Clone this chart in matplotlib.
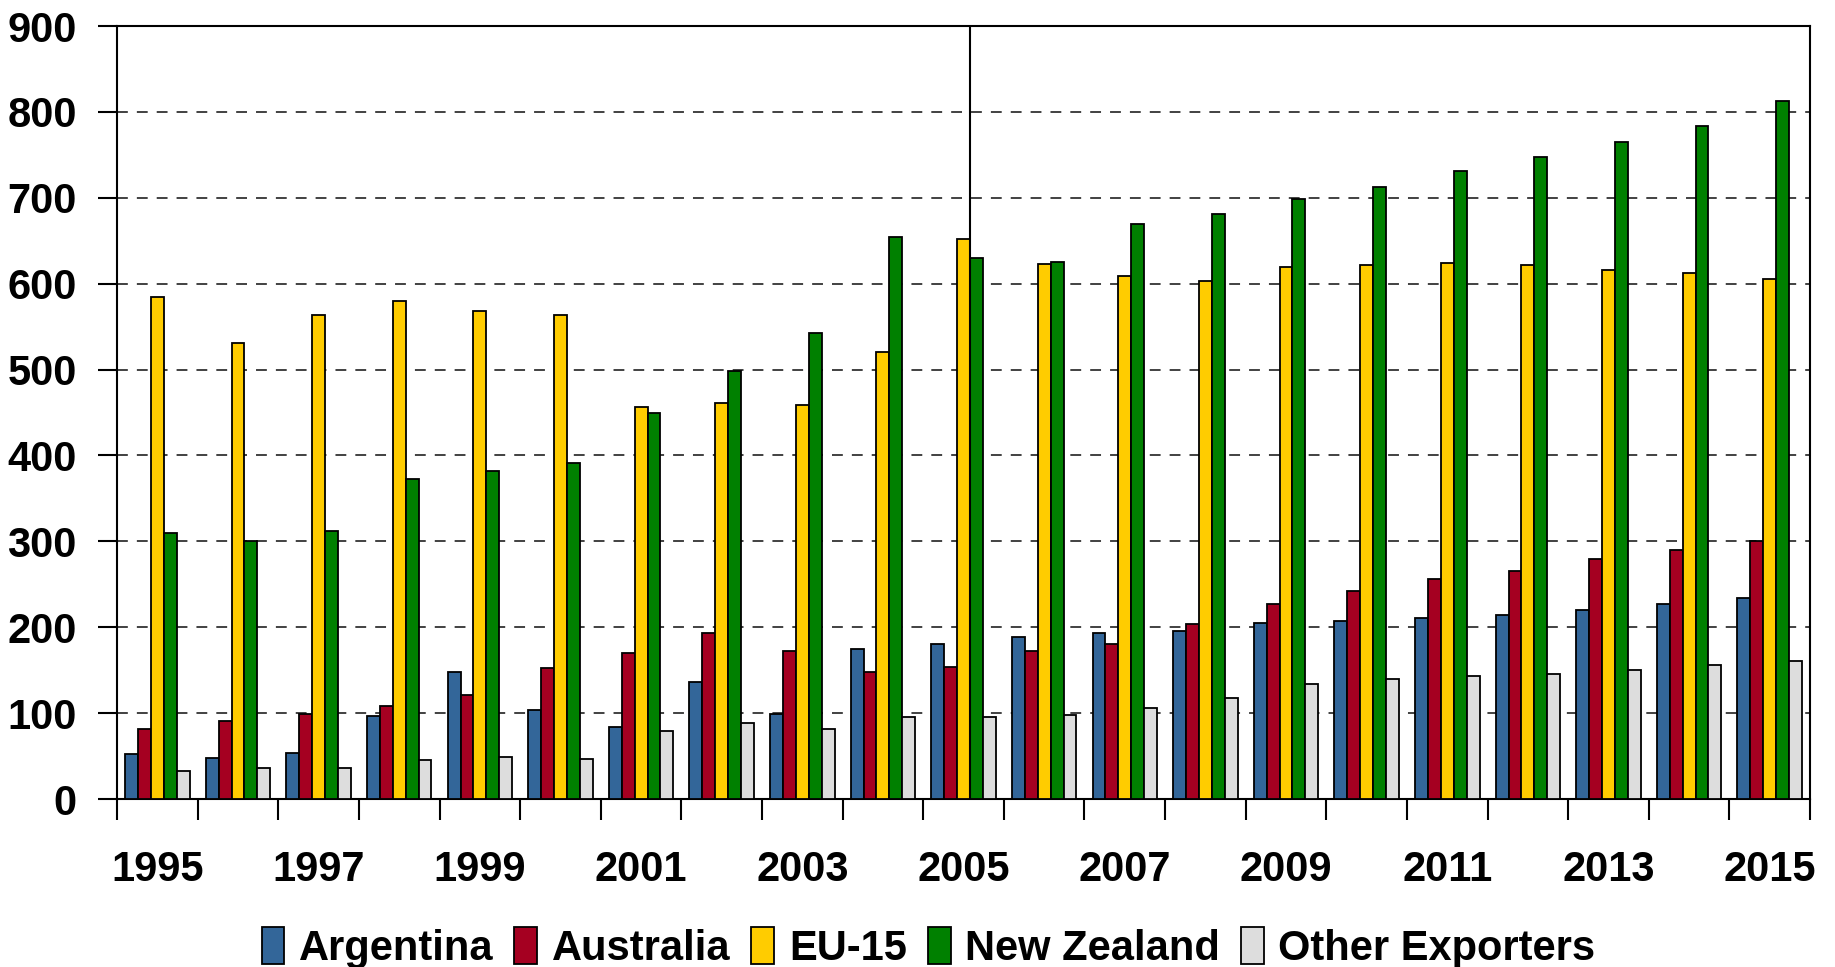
#!/usr/bin/env python3

import numpy as np
import matplotlib
matplotlib.use('Agg')
import matplotlib.pyplot as plt
from matplotlib.ticker import FixedLocator

plt.rcParams['font.family'] = ['Liberation Sans', 'DejaVu Sans']
plt.rcParams['font.weight'] = 'bold'

years = list(range(1995, 2016))
series = ['Argentina', 'Australia', 'EU-15', 'New Zealand', 'Other Exporters']
colors = ['#336699', '#A50021', '#FFCC00', '#008000', '#DDDDDD']

argentina = [52, 48, 54, 97, 148, 104, 84, 136, 99, 175, 180, 189, 193, 196, 205, 207, 211, 214, 220, 227, 234]
australia = [82, 91, 99, 108, 121, 152, 170, 193, 172, 148, 154, 172, 180, 204, 227, 242, 256, 266, 279, 290, 300]
eu15 = [584, 531, 563, 580, 568, 563, 457, 461, 459, 520, 652, 623, 609, 603, 620, 622, 624, 622, 616, 613, 606]
new_zealand = [310, 300, 312, 373, 382, 391, 450, 498, 543, 654, 630, 625, 670, 681, 699, 713, 731, 747, 765, 784, 813]
other = [33, 36, 36, 45, 49, 47, 79, 88, 82, 95, 95, 98, 106, 118, 134, 140, 143, 145, 150, 156, 161]

data = [argentina, australia, eu15, new_zealand, other]


def main():
	fig = plt.figure(figsize=(18.35, 9.67), dpi=100)
	ax = fig.add_axes([0.0638, 0.1737, 0.9226, 0.7994])

	x = np.arange(len(years))
	bw = 0.16
	for i, (vals, col, name) in enumerate(zip(data, colors, series)):
		ax.bar(x + (i - 2) * bw, vals, bw, color=col, edgecolor='black', linewidth=1.3,
			label=name, zorder=3)

	# vertical marker line at 2005
	ax.axvline(10 + bw / 2, color='black', linewidth=1.5, zorder=4)

	ax.set_xlim(-0.5, len(years) - 0.5)
	ax.set_ylim(0, 900)
	ax.set_yticks(np.arange(0, 901, 100))
	ax.yaxis.grid(True, linestyle=(0, (6, 5)), color='#333333', linewidth=1.3, zorder=0)

	ax.set_xticks(x[::2])
	ax.set_xticklabels([str(y) for y in years[::2]])
	ax.xaxis.set_minor_locator(FixedLocator(np.arange(-0.5, len(years), 1.0)))
	ax.tick_params(axis='x', which='major', length=0, pad=37, labelsize=30)
	ax.tick_params(axis='x', which='minor', length=15, width=1.5, direction='out')
	ax.tick_params(axis='y', length=14, width=1.5, pad=15, labelsize=30)

	for s in ax.spines.values():
		s.set_linewidth(1.5)

	fig.legend(loc='center', bbox_to_anchor=(0.506, 0.02), ncol=5, frameon=False,
		fontsize=30, handlelength=0.55, handleheight=1.0, handletextpad=0.35,
		columnspacing=0.5, borderpad=0)

	fig.savefig('out.png', dpi=100)

if __name__ == "__main__":
	main()
